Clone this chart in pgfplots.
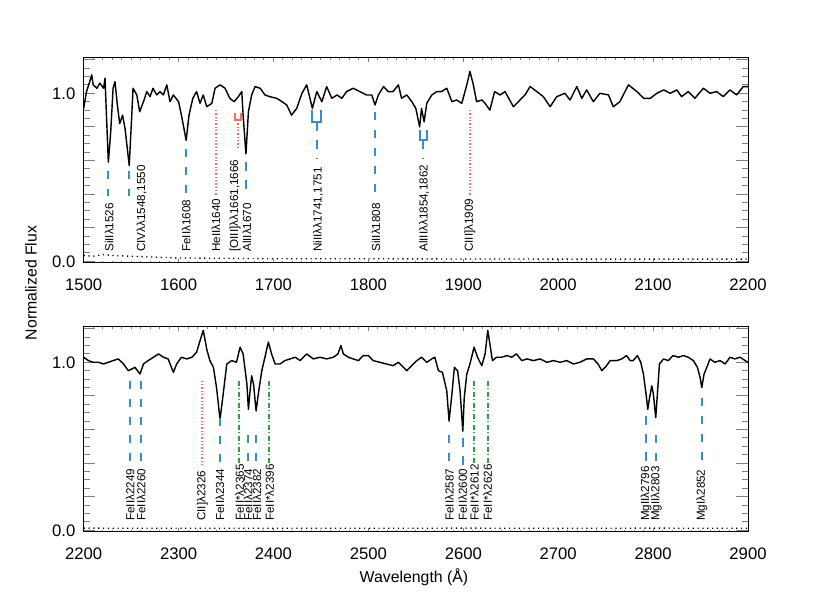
\documentclass[border=0pt]{standalone}
\usepackage{fontspec}
\setmainfont{Liberation Sans}
\usepackage{pgfplots}
\pgfplotsset{compat=1.18}

\definecolor{lineblue}{RGB}{58,140,204}
\definecolor{linered}{RGB}{244,110,90}
\definecolor{linegreen}{RGB}{46,160,70}

\pgfplotsset{
  specpanel/.style={
    scale only axis,
    width=398.6pt, height=123pt,
    ymin=-0.01, ymax=1.21,
    ytick={0,0.2,0.4,0.6,0.8,1.0,1.2},
    yticklabels={0.0,,,,,1.0,},
    minor y tick num=3,
    minor x tick num=9,
    tick align=inside,
    /pgf/number format/assume math mode=true,
    xticklabel style={/pgf/number format/1000 sep={}, font=\fontsize{10}{12}\selectfont, yshift=-6.2pt},
    yticklabel style={font=\fontsize{10}{12}\selectfont, xshift=-1.5pt},
    axis line style={line width=0.6pt},
    major x tick style={line width=0.6pt, /pgfplots/major tick length=2.4pt},
    minor x tick style={line width=0.6pt, /pgfplots/minor tick length=1.2pt},
    major y tick style={line width=0.6pt, /pgfplots/major tick length=7pt},
    minor y tick style={line width=0.6pt, /pgfplots/minor tick length=3.5pt},
  },
  spec/.style={black, line width=0.85pt, line join=round},
  err/.style={black, line width=0.8pt, dash pattern=on 0.7pt off 2.2pt},
  bluedash/.style={lineblue, line width=1.2pt, dash pattern=on 5.2pt off 5.6pt},
  reddot/.style={linered, line width=1.2pt, dash pattern=on 0.8pt off 1.2pt},
  greendd/.style={linegreen, line width=1.2pt, dash pattern=on 3pt off 1.5pt on 0.6pt off 1.5pt},
  brk/.style={line width=1.2pt},
}
\tikzset{lbl/.style={rotate=90, anchor=west, inner sep=0pt, font=\fontsize{7}{8.5}\selectfont}}

\begin{document}
\begin{tikzpicture}
\path[use as bounding box] (0,0) rectangle (498pt,355.8pt);

% ---------------- top panel ----------------
\begin{axis}[specpanel, at={(50.2pt,198pt)}, anchor=south west,
  xmin=1500, xmax=2200, xtick={1500,1600,...,2200}]
\addplot[spec] coordinates {
(1500,0.91)(1503,1.01)(1507,1.08)(1508.5,1.11)(1510,1.05)(1514,1.03)(1517,1.06)(1521,1.03)(1522.5,1.09)(1524,0.87)
(1526,0.59)(1528.5,0.77)(1531,1.03)(1533,1.07)(1535.5,0.93)(1538,0.82)(1541,0.87)(1543.6,0.79)(1548,0.57)(1550.7,0.87)
(1552,1.03)(1556,0.99)(1559,0.89)(1563,0.95)(1566.5,1.01)(1570,0.98)(1573,1.03)(1577,0.99)(1580.5,1.01)(1584,0.99)
(1587.6,1.05)(1591,0.95)(1594.5,0.99)(1600,0.95)(1603,0.87)(1608,0.72)(1611,0.87)(1615,0.97)(1619,1.01)(1622.6,0.94)
(1626,0.99)(1629.7,0.92)(1635,0.94)(1638.5,1.03)(1643.7,1.05)(1649,1.03)(1654,0.97)(1658.5,0.95)(1663,0.98)(1666.6,1.01)
(1668,0.87)(1671,0.64)(1673.6,0.89)(1677,0.99)(1680.6,1.04)(1686,1.03)(1691,0.99)(1696,0.98)(1703.5,0.97)(1709,0.95)
(1714,0.93)(1719,0.87)(1724.5,0.91)(1730,1.00)(1735,1.05)(1741,0.91)(1745.6,1.01)(1751,0.95)(1756,1.04)(1761.5,0.97)
(1767,0.99)(1772,0.97)(1777,1.01)(1784,1.03)(1791,1.01)(1798,0.99)(1803.6,0.99)(1807,0.93)(1810.5,0.99)(1816,1.04)
(1821,1.01)(1826,1.01)(1831.6,1.05)(1835,0.97)(1840.5,0.99)(1845.7,0.95)(1850,0.91)(1854,0.80)(1856,0.91)(1858.7,0.83)
(1861.5,0.94)(1866.8,0.99)(1872,1.01)(1877,1.01)(1882.6,1.03)(1888,0.95)(1893,0.96)(1898.4,0.94)(1903.7,1.05)(1907,1.13)
(1910.6,1.05)(1914,0.95)(1919.5,0.96)(1923,0.94)(1928,0.90)(1933,1.01)(1938.8,0.99)(1944,1.01)(1952.8,0.92)(1958,0.95)
(1965,0.99)(1970.4,1.04)(1977.5,1.01)(1984.4,0.98)(1991.5,0.92)(1998.5,0.98)(2007,1.00)(2012.5,0.96)(2019.6,1.04)(2024.9,0.97)
(2030,1.02)(2037,0.95)(2044,1.00)(2053,0.99)(2058,0.92)(2065,0.95)(2074,1.05)(2083,1.01)(2090,0.97)(2097,0.97)
(2104,1.00)(2111,1.02)(2118,1.00)(2125,1.02)(2130,0.98)(2137,1.01)(2144,0.97)(2153,1.03)(2160,1.00)(2167,1.01)
(2174,0.98)(2181,1.02)(2188,0.99)(2195,1.04)(2200,1.04)
};
\addplot[err] coordinates {
(1500,0.035)(1510,0.03)(1520,0.04)(1530,0.035)(1550,0.03)(1575,0.025)(1600,0.02)(1650,0.018)(1700,0.015)
(1800,0.015)(1900,0.014)(2000,0.013)(2100,0.013)(2200,0.013)
};
% line markers
\addplot[bluedash] coordinates {(1526,0.54)(1526,0.39)};
\addplot[bluedash] coordinates {(1548.2,0.54)(1548.2,0.39)};
\addplot[bluedash] coordinates {(1608,0.67)(1608,0.39)};
\addplot[reddot]   coordinates {(1639.3,0.90)(1639.3,0.39)};
\addplot[linered, brk] coordinates {(1659.5,0.88)(1659.5,0.84)(1666,0.84)(1666,0.88)};
\addplot[reddot]   coordinates {(1663,0.84)(1663,0.67)};
\addplot[bluedash] coordinates {(1670.6,0.59)(1670.6,0.39)};
\addplot[lineblue, brk] coordinates {(1740.4,0.90)(1740.4,0.83)(1750.5,0.83)(1750.5,0.90)};
\addplot[bluedash] coordinates {(1745.5,0.83)(1745.5,0.61)};
\addplot[bluedash] coordinates {(1807,0.89)(1807,0.39)};
\addplot[lineblue, brk] coordinates {(1854,0.78)(1854,0.72)(1861.5,0.72)(1861.5,0.78)};
\addplot[bluedash] coordinates {(1857.7,0.72)(1857.7,0.61)};
\addplot[reddot]   coordinates {(1907,0.90)(1907,0.39)};
% labels
\node[lbl] at (axis cs:1527,0.055) {SiIIλ1526};
\node[lbl] at (axis cs:1561,0.055) {CIVλλ1548,1550};
\node[lbl] at (axis cs:1608,0.055) {FeIIλ1608};
\node[lbl] at (axis cs:1639.5,0.055) {HeIIλ1640};
\node[lbl] at (axis cs:1659.5,0.055) {[OIII]λλ1661,1666};
\node[lbl] at (axis cs:1672,0.055) {AlIIλ1670};
\node[lbl] at (axis cs:1747,0.055) {NiIIλλ1741,1751};
\node[lbl] at (axis cs:1808,0.055) {SiIIλ1808};
\node[lbl] at (axis cs:1858.7,0.055) {AlIIIλλ1854,1862};
\node[lbl] at (axis cs:1907,0.055) {CIII]λ1909};
\end{axis}

% ---------------- bottom panel ----------------
\begin{axis}[specpanel, at={(50.2pt,36.6pt)}, anchor=south west,
  xmin=2200, xmax=2900, xtick={2200,2300,...,2900}]
\addplot[spec] coordinates {
(2200,1.03)(2205,1.01)(2210,1.00)(2215.5,1.00)(2221,0.99)(2226,1.00)(2231,1.01)(2236.5,1.02)(2242,0.99)(2247,0.95)
(2250.7,0.96)(2254,0.97)(2259.4,0.93)(2263,0.99)(2268,1.01)(2273.5,1.03)(2279,1.05)(2284,1.03)(2289,1.02)(2294.5,0.94)
(2298,0.99)(2303,1.03)(2308.6,1.02)(2314,1.03)(2319,1.06)(2322.7,1.13)(2326,1.19)(2330,1.07)(2333,1.01)(2336.7,0.97)
(2340,0.85)(2343.7,0.66)(2347,0.81)(2350.8,0.99)(2356,1.01)(2361,1.00)(2364.8,1.09)(2368,1.05)(2372,0.87)(2373.6,0.72)
(2375,0.81)(2377,0.92)(2379,0.87)(2381.7,0.71)(2384,0.81)(2387.7,0.95)(2391,1.03)(2394.6,1.12)(2398,1.05)(2401.7,0.99)
(2407,0.99)(2412,1.01)(2417.5,1.02)(2423,1.03)(2428,1.01)(2435,1.05)(2442,1.02)(2449,1.03)(2456,1.02)(2463,1.03)
(2468,1.05)(2471,1.10)(2473.6,1.05)(2479,1.03)(2484,1.02)(2489.5,1.01)(2494.7,1.04)(2500,1.04)(2505,1.01)(2512,1.00)
(2519,0.99)(2526,0.98)(2531.6,1.00)(2537,0.97)(2540.5,0.95)(2545.7,0.98)(2551,1.01)(2556,1.03)(2561.5,1.00)(2566.8,1.02)
(2570,1.03)(2573.8,0.95)(2578,0.94)(2582.6,0.83)(2585,0.65)(2588,0.81)(2590.6,0.97)(2594,0.95)(2596.6,0.83)(2599.5,0.59)
(2601,0.79)(2603.7,0.93)(2607,0.99)(2611.4,1.09)(2615,1.03)(2619.5,0.98)(2623,1.05)(2625.8,1.19)(2628,1.11)(2630.7,1.01)
(2635,1.03)(2640.5,1.03)(2646,1.04)(2651,1.03)(2656,1.05)(2661.6,1.01)(2667,1.02)(2674,1.01)(2681,1.02)(2688,1.00)
(2695,1.01)(2702,1.00)(2709,1.01)(2716,0.99)(2723,1.00)(2730,1.02)(2737,1.02)(2742,0.99)(2746,0.95)(2751,0.98)
(2754.7,1.01)(2761.7,1.01)(2767,1.02)(2772,1.04)(2775.8,1.01)(2779,1.01)(2783.5,1.04)(2787,1.00)(2789.8,0.93)(2792.6,0.81)
(2794.4,0.72)(2796,0.78)(2798.6,0.86)(2800.3,0.81)(2802.8,0.67)(2804.5,0.81)(2806.7,0.99)(2811,1.02)(2816,1.01)(2821,1.04)
(2826.7,1.03)(2832,1.04)(2837,1.03)(2842.5,1.01)(2846.7,0.97)(2849.5,0.91)(2851.3,0.85)(2853.7,0.93)(2856.6,0.97)(2860,1.02)
(2865,1.00)(2870.6,1.01)(2876,0.99)(2881,1.03)(2886,1.02)(2891.6,1.03)(2897,1.01)(2900,1.00)
};
\addplot[err] coordinates {
(2200,0.013)(2300,0.012)(2400,0.012)(2500,0.012)(2600,0.013)(2700,0.012)(2800,0.013)(2900,0.012)
};
% line markers
\addplot[bluedash] coordinates {(2249,0.89)(2249,0.39)};
\addplot[bluedash] coordinates {(2260,0.89)(2260,0.39)};
\addplot[reddot]   coordinates {(2325,0.89)(2325,0.39)};
\addplot[bluedash] coordinates {(2343.7,0.67)(2343.7,0.39)};
\addplot[greendd]  coordinates {(2364,0.89)(2364,0.39)};
\addplot[bluedash] coordinates {(2373,0.57)(2373,0.39)};
\addplot[bluedash] coordinates {(2382,0.57)(2382,0.39)};
\addplot[greendd]  coordinates {(2395.7,0.89)(2395.7,0.39)};
\addplot[bluedash] coordinates {(2585.4,0.57)(2585.4,0.39)};
\addplot[bluedash] coordinates {(2599.5,0.55)(2599.5,0.39)};
\addplot[greendd]  coordinates {(2611.7,0.89)(2611.7,0.39)};
\addplot[greendd]  coordinates {(2625.8,0.89)(2625.8,0.39)};
\addplot[bluedash] coordinates {(2792.6,0.68)(2792.6,0.39)};
\addplot[bluedash] coordinates {(2803,0.57)(2803,0.39)};
\addplot[bluedash] coordinates {(2851.3,0.79)(2851.3,0.39)};
% labels
\node[lbl] at (axis cs:2249,0.055) {FeIIλ2249};
\node[lbl] at (axis cs:2260.5,0.055) {FeIIλ2260};
\node[lbl] at (axis cs:2325,0.055) {CII]λ2326};
\node[lbl] at (axis cs:2343.7,0.055) {FeIIλ2344};
\node[lbl] at (axis cs:2364.5,0.055) {FeII*λ2365};
\node[lbl] at (axis cs:2373.5,0.055) {FeIIλ2374};
\node[lbl] at (axis cs:2382.5,0.055) {FeIIλ2382};
\node[lbl] at (axis cs:2396,0.055) {FeII*λ2396};
\node[lbl] at (axis cs:2585.4,0.055) {FeIIλ2587};
\node[lbl] at (axis cs:2599.5,0.055) {FeIIλ2600};
\node[lbl] at (axis cs:2611.7,0.055) {FeII*λ2612};
\node[lbl] at (axis cs:2625.8,0.055) {FeII*λ2626};
\node[lbl] at (axis cs:2792.6,0.055) {MgIIλ2796};
\node[lbl] at (axis cs:2803.5,0.055) {MgIIλ2803};
\node[lbl] at (axis cs:2851.3,0.055) {MgIλ2852};
\end{axis}

\node[rotate=90, font=\fontsize{9.5}{11}\selectfont] at (18.6pt,186pt) {Normalized Flux};
\node[font=\fontsize{9.5}{11}\selectfont] at (248.4pt,9.6pt) {Wavelength (Å)};
\end{tikzpicture}
\end{document}
